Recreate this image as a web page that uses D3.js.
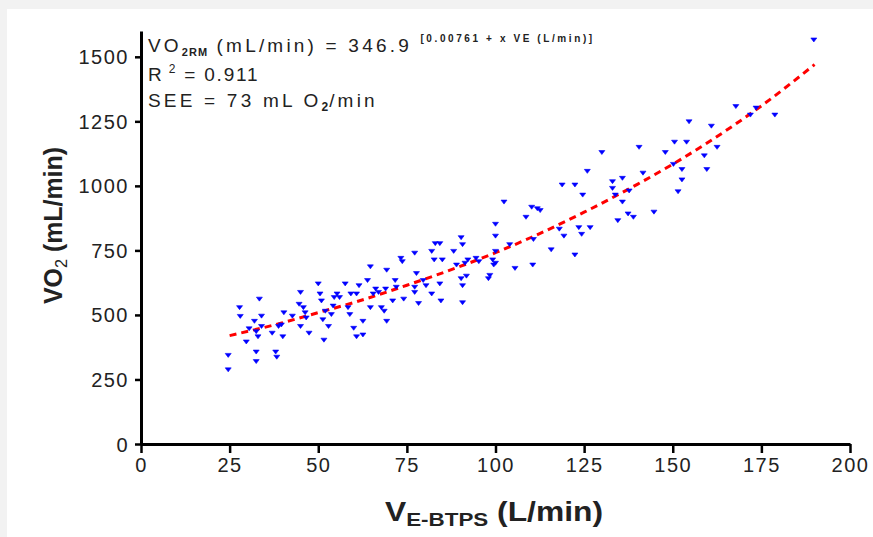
<!DOCTYPE html>
<html>
<head>
<meta charset="utf-8">
<script src="https://cdn.jsdelivr.net/npm/d3@7"></script>
<style>
  html, body { margin: 0; padding: 0; background: #f2f2f2; }
  svg { display: block; }
  text { font-family: "Liberation Sans", Arial, sans-serif; }
</style>
</head>
<body>
<svg id="chart" width="873" height="537"></svg>
<script>
// ---- data ----
const veValues = [24.6,24.6,27.8,28,30.5,29.7,32,32.5,32.5,32.5,33.4,34,34,33,37,38,38.3,38.8,40,40.3,39.6,42.7,
  45,44.6,45,45.8,46.3,46.6,47.4,50,50.5,50.9,51.3,51.6,52,52.9,53.7,54.5,54.2,55.3,56,57.6,58.4,58.9,59.2,60,
  60.8,60.8,61.5,62.6,62.6,63.9,64.7,64.7,65.5,66.2,67,67.8,68.6,69,69.3,69.3,71,71.7,72,73.3,73.7,74.1,77.2,
  77.2,77.2,77.7,78.3,79.6,80.4,82,82,82.7,83,84.3,84.3,84.6,85,88.2,89,90.3,90.7,90.3,90.7,90.7,91.4,91.8,92.2,
  94.5,95.3,98,98.4,99.2,99.5,100,100,100,100,102.4,104,105.5,108.6,110.2,110.5,110.7,111.8,112.6,115.7,118,
  118.8,119.3,122.4,122.4,123.5,124.3,124.6,125.9,126.7,130,133,133,133.8,134.5,135.8,135.8,137.4,137.7,138.9,
  140.5,141.6,144.7,147.9,150.2,150.5,151.5,152.6,152.6,153.9,154.6,158.9,159.6,160.9,162.5,167.8,171.9,173.5,
  178.8,189.8];
const vo2Values = [344,288,529,495,447,396,476,436,357,320,562,496,456,416,430,357,337,456,416,509,462,496,
  588,542,456,529,509,489,430,621,582,555,482,403,515,456,502,568,535,582,568,621,529,502,582,449,
  416,582,614,476,423,634,687,529,582,601,588,529,515,601,674,476,555,634,608,720,707,562,740,
  608,588,661,545,634,614,747,582,714,777,777,621,555,714,747,694,800,773,641,614,548,701,651,714,
  720,707,641,654,714,694,852,806,747,701,938,773,681,879,918,694,793,912,905,753,833,
  1004,806,1004,733,839,813,965,1057,839,1130,1017,991,965,866,1030,938,892,981,879,
  1150,1050,899,1130,1084,1170,978,1064,1024,1170,1249,1117,1064,1232,1150,1308,1275,1302,
  1275,1566];
// fitted curve, points
const fitVE  = [25, 40, 50, 60, 75, 90, 100, 110, 125, 140, 150, 160, 175, 190];
const fitVO2 = [420, 470, 509, 548, 615, 688, 741, 800, 898, 1006, 1084, 1169, 1310, 1470];
const xTicks = [0, 25, 50, 75, 100, 125, 150, 175, 200];
const yTicks = [0, 250, 500, 750, 1000, 1250, 1500];

const svg = d3.select("#chart");
// white panel
svg.append("rect").attr("x", 7).attr("y", 9).attr("width", 866).attr("height", 528).attr("fill", "#ffffff");

const x = d3.scaleLinear().domain([0, 200]).range([141, 850]);
const y = d3.scaleLinear().domain([0, 1600]).range([444, 31]);

// fit line
const line = d3.line().x((d, i) => x(fitVE[i])).y((d, i) => y(fitVO2[i])).curve(d3.curveMonotoneX);
svg.append("path").datum(fitVE).attr("d", line)
  .attr("fill", "none").attr("stroke", "#ff0000").attr("stroke-width", 3)
  .attr("stroke-dasharray", "7,5");

// points
const tri = "M-3,-1.8 L3,-1.8 L0,2.2 Z";
svg.append("g").selectAll("path").data(veValues).join("path")
  .attr("d", tri)
  .attr("transform", (d, i) => `translate(${x(d)},${y(vo2Values[i])})`)
  .attr("fill", "#0000ff").attr("stroke", "#0000ff").attr("stroke-width", 0.6);

// axes
const fmt = d3.format("d");
const xAxis = d3.axisBottom(x).tickValues(xTicks).tickFormat(fmt).tickSize(9).tickPadding(5).tickSizeOuter(0);
const gx = svg.append("g").attr("transform", "translate(0,444)").call(xAxis);
gx.select(".domain").attr("stroke", "#000").attr("stroke-width", 3);
gx.selectAll(".tick line").attr("stroke", "#000").attr("stroke-width", 2.5);
gx.selectAll(".tick text").attr("font-size", 20).attr("letter-spacing", 1.5).attr("fill", "#222")
  .style("font-family", "'Liberation Sans', Arial, sans-serif");

const yAxis = d3.axisLeft(y).tickValues(yTicks).tickFormat(fmt).tickSize(6).tickPadding(6).tickSizeOuter(0);
const gy = svg.append("g").attr("transform", "translate(141,0)").call(yAxis);
gy.select(".domain").attr("stroke", "#000").attr("stroke-width", 3);
gy.selectAll(".tick line").attr("stroke", "#000").attr("stroke-width", 2.5);
gy.selectAll(".tick text").attr("font-size", 20).attr("letter-spacing", 1.5).attr("fill", "#222")
  .attr("dy", "0.35em")
  .style("font-family", "'Liberation Sans', Arial, sans-serif");

// axis titles
const xt = svg.append("text").attr("x", 385).attr("y", 521)
  .attr("font-size", 27).attr("font-weight", "bold").attr("fill", "#222")
  .attr("textLength", 218).attr("lengthAdjust", "spacingAndGlyphs");
xt.append("tspan").text("V");
xt.append("tspan").attr("font-size", 19).attr("dy", 5).text("E-BTPS");
xt.append("tspan").attr("dy", -5).text(" (L/min)");

const yt = svg.append("text").attr("transform", "translate(62,304) rotate(-90)")
  .attr("font-size", 26).attr("font-weight", "bold").attr("fill", "#222")
  .attr("textLength", 157).attr("lengthAdjust", "spacingAndGlyphs");
yt.append("tspan").text("VO");
yt.append("tspan").attr("font-size", 17).attr("font-weight", "normal").attr("dy", 5).text("2");
yt.append("tspan").attr("dy", -5).text(" (mL/min)");

// annotation
const a1 = svg.append("text").attr("x", 148).attr("y", 52).attr("font-size", 19).attr("fill", "#222")
  .attr("letter-spacing", 3.2);
a1.append("tspan").text("VO");
a1.append("tspan").attr("font-size", 11).attr("font-weight", "bold").attr("dy", 4).attr("letter-spacing", 1).text("2RM");
a1.append("tspan").attr("dy", -4).text(" (mL/min) = 346.9 ");
a1.append("tspan").attr("font-size", 10).attr("font-weight", "bold").attr("dy", -10).attr("letter-spacing", 2.6)
  .text("[0.00761 + x VE (L/min)]");

const a2 = svg.append("text").attr("x", 148).attr("y", 81).attr("font-size", 19).attr("fill", "#222")
  .attr("letter-spacing", 1.8);
a2.append("tspan").text("R");
a2.append("tspan").attr("font-size", 12).attr("dy", -8).text(" 2");
a2.append("tspan").attr("dy", 8).text(" = 0.911");

const a3 = svg.append("text").attr("x", 148).attr("y", 107).attr("font-size", 19).attr("fill", "#222")
  .attr("letter-spacing", 3.2);
a3.append("tspan").text("SEE = 73 mL O");
a3.append("tspan").attr("font-size", 12).attr("font-weight", "bold").attr("dy", 4).attr("letter-spacing", 1).text("2");
a3.append("tspan").attr("dy", -4).text("/min");
</script>
</body>
</html>
